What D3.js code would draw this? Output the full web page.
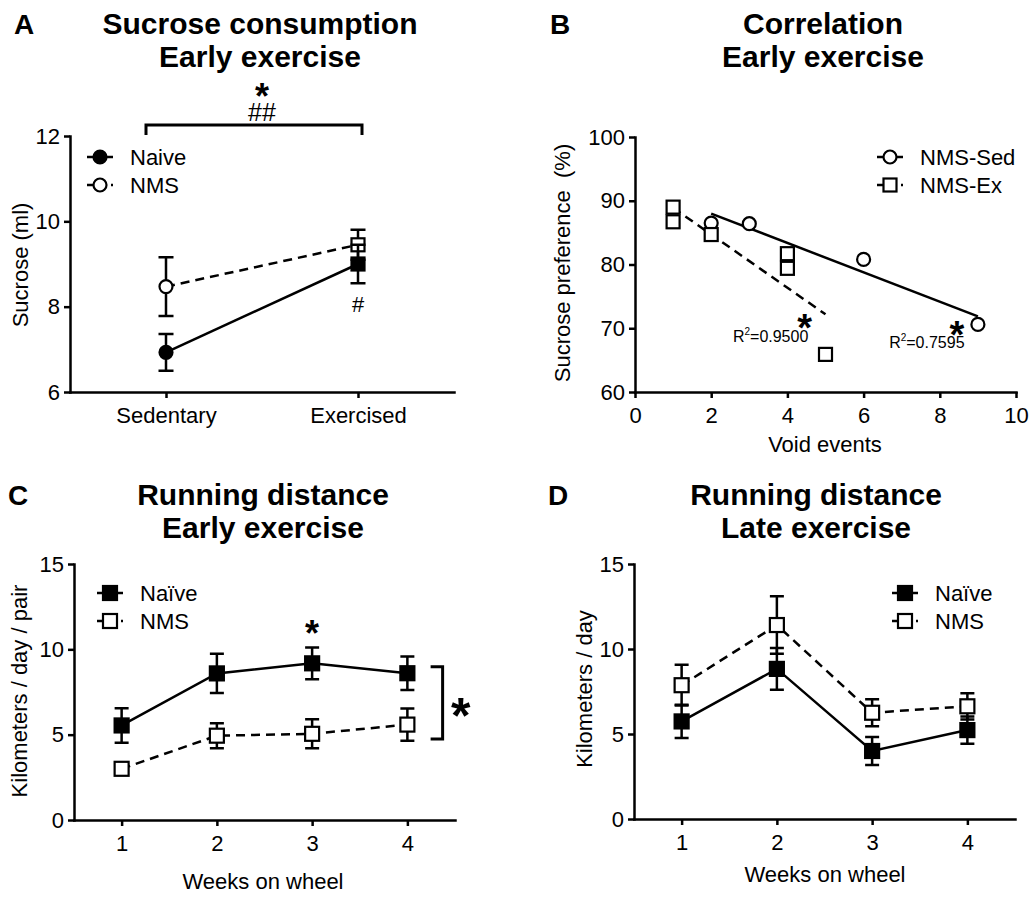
<!DOCTYPE html>
<html>
<head>
<meta charset="utf-8">
<script src="https://cdn.jsdelivr.net/npm/d3@7"></script>
<style>
  body { margin: 0; background: #fff; }
  svg text { font-family: "Liberation Sans", Arial, Helvetica, sans-serif; fill: #000; }
</style>
</head>
<body>
<div id="chart"></div>
<script>
// ----------------------------------
// DATA
// ----------------------------------

// A - sucrose consumption, early exercise
const sucroseGroups = ["Sedentary", "Exercised"];
const sucroseNaive = [6.93, 9.0];
const sucroseNaiveSem = [0.43, 0.45];
const sucroseNms = [8.47, 9.45];
const sucroseNmsSem = [0.69, 0.35];
const sucroseTicks = [6, 8, 10, 12];

// B - correlation, void events vs sucrose preference
const sedVoids = [2, 3, 6, 9];
const sedPref = [86.5, 86.4, 80.8, 70.6];
const exVoids = [1, 1, 2, 4, 4, 5];
const exPref = [89.0, 86.7, 84.7, 81.7, 79.4, 65.9];
const r2Labels = ["0.9500", "0.7595"];
const voidTicks = [0, 2, 4, 6, 8, 10];
const prefTicks = [60, 70, 80, 90, 100];

// C / D - running distance
const weeks = [1, 2, 3, 4];
const earlyNaive = [5.54, 8.59, 9.18, 8.6];
const earlyNaiveSem = [1.01, 1.15, 0.93, 0.98];
const earlyNms = [3.0, 4.94, 5.05, 5.59];
const earlyNmsSem = [0.2, 0.73, 0.85, 0.94];
const lateNaive = [5.74, 8.83, 4.0, 5.23];
const lateNaiveSem = [0.98, 1.23, 0.82, 0.8];
const lateNms = [7.87, 11.41, 6.25, 6.63];
const lateNmsSem = [1.2, 1.69, 0.8, 0.77];
const kmTicks = [0, 5, 10, 15];

// ----------------------------------
// SETUP
// ----------------------------------
const W = 1033, H = 897;
const LW = 2.5, DASH = '9,6', FS = 22;

const svg = d3.select('#chart').append('svg')
	.attr('width', W)
	.attr('height', H);

function addAxes(x, y, yTicks, xTicks) {
	const xAxis = d3.axisBottom(x).tickSize(6).tickSizeOuter(0).tickPadding(9);
	if (xTicks) xAxis.tickValues(xTicks).tickFormat(d3.format('d'));
	const yAxis = d3.axisLeft(y).tickValues(yTicks).tickFormat(d3.format('d'))
		.tickSize(6).tickSizeOuter(0).tickPadding(4);

	[[xAxis, `translate(0,${y.range()[0]})`], [yAxis, `translate(${x.range()[0]},0)`]].forEach(([ax, tr]) => {
		const g = svg.append('g')
			.attr('transform', tr)
			.call(ax)
			.attr('font-size', FS)
			.attr('font-family', null);
		g.selectAll('path, line').attr('stroke', '#000').attr('stroke-width', LW);
		g.select('.domain').attr('stroke-linecap', 'square');
	});
}

function marker(g, cx, cy, shape, filled, size) {
	const m = shape === 'circle'
		? g.append('circle').attr('cx', cx).attr('cy', cy).attr('r', size / 2)
		: g.append('rect').attr('x', cx - size / 2).attr('y', cy - size / 2).attr('width', size).attr('height', size);
	m.attr('fill', filled ? '#000' : '#fff')
		.attr('stroke', '#000')
		.attr('stroke-width', 2.2);
}

// line + error bars + markers for one group
function series(x, y, xs, vals, sems, opts) {
	const g = svg.append('g');
	const pts = xs.map((d, i) => ({x: d, v: vals[i], e: sems[i], i: i}));

	g.append('path')
		.datum(pts)
		.attr('d', d3.line().x(d => x(d.x)).y(d => y(d.v)))
		.attr('fill', 'none')
		.attr('stroke', '#000')
		.attr('stroke-width', LW)
		.attr('stroke-dasharray', opts.dashed ? DASH : null);

	pts.forEach(d => {
		const cx = x(d.x), cap = opts.cap / 2;
		g.append('path')
			.attr('d', `M${cx},${y(d.v - d.e)}V${y(d.v + d.e)}M${cx - cap},${y(d.v + d.e)}H${cx + cap}M${cx - cap},${y(d.v - d.e)}H${cx + cap}`)
			.attr('fill', 'none')
			.attr('stroke', '#000')
			.attr('stroke-width', LW);
	});

	pts.forEach(d => marker(g, x(d.x), y(d.v), opts.shape(d.i), opts.filled, opts.size));
}

function legend(x0, y0, items, size) {
	items.forEach((it, i) => {
		const g = svg.append('g');
		const cy = y0 + i * 28;
		g.append('line')
			.attr('x1', x0 - 13).attr('x2', x0 + 13)
			.attr('y1', cy).attr('y2', cy)
			.attr('stroke', '#000')
			.attr('stroke-width', LW)
			.attr('stroke-dasharray', it.dashed ? '8,4' : null);
		marker(g, x0, cy, it.shape, it.filled, size);
		g.append('text')
			.attr('x', x0 + 30)
			.attr('y', cy)
			.attr('dy', '0.36em')
			.attr('font-size', FS)
			.text(it.label);
	});
}

function title(cx, y1, lines, letter, lx) {
	lines.forEach((t, i) => {
		svg.append('text')
			.attr('x', cx).attr('y', y1 + i * 33)
			.attr('text-anchor', 'middle')
			.attr('font-size', 30)
			.attr('font-weight', 'bold')
			.text(t);
	});
	svg.append('text')
		.attr('x', lx).attr('y', y1)
		.attr('font-size', 28)
		.attr('font-weight', 'bold')
		.text(letter);
}

function yLabel(x, y, text) {
	svg.append('text')
		.attr('transform', `translate(${x},${y}) rotate(-90)`)
		.attr('text-anchor', 'middle')
		.attr('font-size', FS)
		.text(text);
}

function xLabel(x, y, text) {
	svg.append('text')
		.attr('x', x).attr('y', y)
		.attr('text-anchor', 'middle')
		.attr('font-size', FS)
		.text(text);
}

// asterisk / hash placed by its visual centre
function mark(cx, cy, text, fs, bold, shift) {
	svg.append('text')
		.attr('x', cx).attr('y', cy + shift * fs)
		.attr('text-anchor', 'middle')
		.attr('font-size', fs)
		.attr('font-weight', bold ? 'bold' : null)
		.text(text);
}

function fit(xs, ys) {
	const mx = d3.mean(xs), my = d3.mean(ys);
	const b = d3.sum(xs, (d, i) => (d - mx) * (ys[i] - my)) / d3.sum(xs, d => (d - mx) ** 2);
	return v => my + b * (v - mx);
}

// ----------------------------------
// PANEL A
// ----------------------------------
{
	const x = d3.scalePoint().domain(sucroseGroups).range([70, 454]).padding(0.5);
	const y = d3.scaleLinear().domain([6, 12]).range([392, 136]);
	addAxes(x, y, sucroseTicks);

	const shapeA = i => i === 0 ? 'circle' : 'square';
	series(x, y, sucroseGroups, sucroseNms, sucroseNmsSem, {dashed: true, filled: false, shape: shapeA, size: 13, cap: 15});
	series(x, y, sucroseGroups, sucroseNaive, sucroseNaiveSem, {dashed: false, filled: true, shape: shapeA, size: 13, cap: 15});

	legend(100, 157, [
		{label: 'Naive', filled: true, shape: 'circle'},
		{label: 'NMS', filled: false, dashed: true, shape: 'circle'}
	], 13);

	// significance bracket over both groups
	const bx1 = x(sucroseGroups[0]) - 20, bx2 = x(sucroseGroups[1]) + 4, by = y(12) - 11;
	svg.append('path')
		.attr('d', `M${bx1},${by + 10}V${by}H${bx2}V${by + 10}`)
		.attr('fill', 'none').attr('stroke', '#000').attr('stroke-width', 3);
	const mid = (x(sucroseGroups[0]) + x(sucroseGroups[1])) / 2;
	mark(mid, by - 38, '*', 36, true, 0.6);
	mark(mid, by - 13, '##', 25, false, 0.36);
	mark(x(sucroseGroups[1]), y(sucroseNaive[1] - sucroseNaiveSem[1]) + 21, '#', 22, false, 0.36);

	title(260, 34, ['Sucrose consumption', 'Early exercise'], 'A', 14);
	yLabel(28, 265, 'Sucrose (ml)');
}

// ----------------------------------
// PANEL B
// ----------------------------------
{
	const x = d3.scaleLinear().domain([0, 10]).range([635, 1016]);
	const y = d3.scaleLinear().domain([60, 100]).range([392, 137]);
	addAxes(x, y, prefTicks, voidTicks);

	const fSed = fit(sedVoids, sedPref), fEx = fit(exVoids, exPref);
	const sedExt = d3.extent(sedVoids), exExt = d3.extent(exVoids);
	svg.append('line')
		.attr('x1', x(sedExt[0])).attr('y1', y(fSed(sedExt[0])))
		.attr('x2', x(sedExt[1])).attr('y2', y(fSed(sedExt[1])))
		.attr('stroke', '#000').attr('stroke-width', LW);
	svg.append('line')
		.attr('x1', x(exExt[0])).attr('y1', y(fEx(exExt[0])))
		.attr('x2', x(exExt[1])).attr('y2', y(fEx(exExt[1])))
		.attr('stroke', '#000').attr('stroke-width', LW)
		.attr('stroke-dasharray', DASH);

	const g = svg.append('g');
	sedVoids.forEach((v, i) => marker(g, x(v), y(sedPref[i]), 'circle', false, 13));
	exVoids.forEach((v, i) => marker(g, x(v), y(exPref[i]), 'square', false, 13));

	legend(890, 157, [
		{label: 'NMS-Sed', filled: false, shape: 'circle'},
		{label: 'NMS-Ex', filled: false, dashed: true, shape: 'square'}
	], 13);

	mark(x(4.45), y(71.6), '*', 38, true, 0.6);
	mark(x(8.45), y(70.5), '*', 38, true, 0.6);
	[[2.57, 67.8], [6.67, 66.9]].forEach(([vx, vy], i) => {
		const t = svg.append('text')
			.attr('x', x(vx)).attr('y', y(vy))
			.attr('font-size', 16);
		t.append('tspan').text('R');
		t.append('tspan').attr('font-size', 10).attr('dy', -7).text('2');
		t.append('tspan').attr('dy', 7).text('=' + r2Labels[i]);
	});

	title(823, 34, ['Correlation', 'Early exercise'], 'B', 550);
	yLabel(570, 263, 'Sucrose preference \u00a0(%)');
	xLabel(825, 452, 'Void events');
}

// ----------------------------------
// PANEL C
// ----------------------------------
{
	const x = d3.scaleLinear().domain([0.5, 4.5]).range([74, 455]);
	const y = d3.scaleLinear().domain([0, 15]).range([820, 564]);
	addAxes(x, y, kmTicks, weeks);

	const sq = () => 'square';
	series(x, y, weeks, earlyNms, earlyNmsSem, {dashed: true, filled: false, shape: sq, size: 14, cap: 14});
	series(x, y, weeks, earlyNaive, earlyNaiveSem, {dashed: false, filled: true, shape: sq, size: 14, cap: 14});

	legend(110, 593, [
		{label: 'Naïve', filled: true, shape: 'square'},
		{label: 'NMS', filled: false, dashed: true, shape: 'square'}
	], 14);

	mark(x(3), y(earlyNaive[2] + earlyNaiveSem[2]) - 23, '*', 36, true, 0.6);

	// bracket between groups at week 4
	const bx = x(4.37), top = y(8.98), bot = y(4.74);
	svg.append('path')
		.attr('d', `M${bx - 12},${top}H${bx}V${bot}H${bx - 12}`)
		.attr('fill', 'none').attr('stroke', '#000').attr('stroke-width', 3);
	mark(bx + 18, (top + bot) / 2, '*', 50, true, 0.6);

	title(263, 505, ['Running distance', 'Early exercise'], 'C', 8);
	yLabel(27, 691, 'Kilometers / day / pair');
	xLabel(263, 889, 'Weeks on wheel');
}

// ----------------------------------
// PANEL D
// ----------------------------------
{
	const x = d3.scaleLinear().domain([0.5, 4.5]).range([634, 1015]);
	const y = d3.scaleLinear().domain([0, 15]).range([819, 564]);
	addAxes(x, y, kmTicks, weeks);

	const sq = () => 'square';
	series(x, y, weeks, lateNms, lateNmsSem, {dashed: true, filled: false, shape: sq, size: 14, cap: 14});
	series(x, y, weeks, lateNaive, lateNaiveSem, {dashed: false, filled: true, shape: sq, size: 14, cap: 14});

	legend(905, 593, [
		{label: 'Naïve', filled: true, shape: 'square'},
		{label: 'NMS', filled: false, dashed: true, shape: 'square'}
	], 14);

	title(816, 505, ['Running distance', 'Late exercise'], 'D', 548);
	yLabel(592, 689, 'Kilometers / day');
	xLabel(825, 882, 'Weeks on wheel');
}
</script>
</body>
</html>
